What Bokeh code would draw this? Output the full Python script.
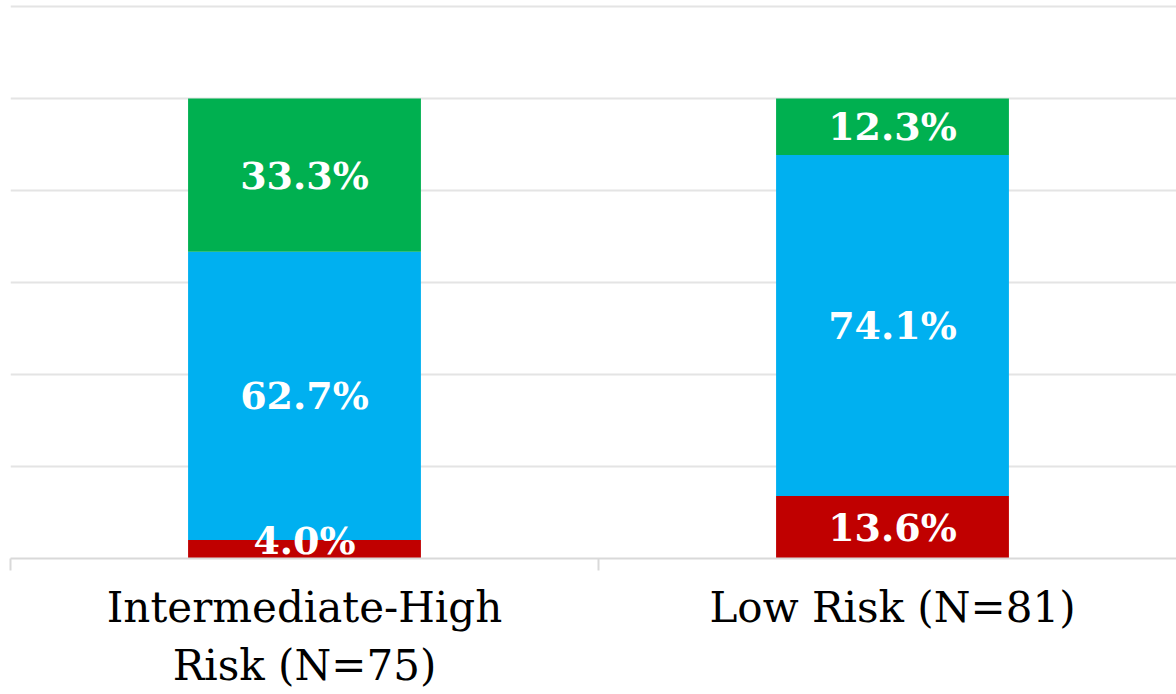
from bokeh.plotting import figure
from bokeh.models import ColumnDataSource, FixedTicker, Range1d
from bokeh.core.properties import value
from bokeh.embed import file_html
from bokeh.resources import INLINE

categories = ["Intermediate-High\nRisk (N=75)", "Low Risk (N=81)"]
x_pos = [0.5, 1.5]
red_vals = [4.0, 13.6]
blue_vals = [62.7, 74.1]
green_vals = [33.3, 12.3]
series_colors = ["#C00000", "#00B0F0", "#00B050"]

p = figure(width=1176, height=694, output_backend="svg", toolbar_location=None,
           x_range=Range1d(0, 1166 / 588), y_range=Range1d(0, 121.3),
           min_border_left=10, min_border_right=0, min_border_top=0,
           min_border_bottom=136,
           background_fill_color="white", border_fill_color="white",
           outline_line_color=None)

src = ColumnDataSource(dict(x=x_pos, red=red_vals, blue=blue_vals, green=green_vals))
p.vbar_stack(["red", "blue", "green"], x="x", width=0.396, source=src,
             color=series_colors, line_color=None)

# value labels
lx, ly, lt = [], [], []
for i, xv in enumerate(x_pos):
    base = 0.0
    for vals in (red_vals, blue_vals, green_vals):
        v = vals[i]
        lx.append(xv)
        ly.append(base + v / 2)
        lt.append(f"{v:.1f}%")
        base += v
ly[0] = ly[0] + 2.0
p.text(x=lx, y=ly, text=lt, text_color="white", text_font=value("DejaVu Serif"),
       text_font_style="bold", text_font_size="38px", text_align="center",
       text_baseline="middle")

p.yaxis.visible = False
p.ygrid.ticker = FixedTicker(ticks=[0, 20, 40, 60, 80, 100, 120])
p.ygrid.grid_line_color = "#e4e4e4"
p.ygrid.grid_line_width = 2
p.xgrid.visible = False

ax = p.xaxis[0]
ax.ticker = FixedTicker(ticks=x_pos, minor_ticks=[0, 1, 2])
ax.major_label_overrides = {x_pos[i]: categories[i] for i in range(2)}
ax.major_tick_out = 0
ax.major_tick_in = 0
ax.minor_tick_out = 12
ax.minor_tick_in = 0
ax.minor_tick_line_color = "#d9d9d9"
ax.axis_line_color = "#d9d9d9"
ax.axis_line_width = 2
ax.minor_tick_line_width = 2
ax.major_label_text_font = "DejaVu Serif"
ax.major_label_text_font_size = "42px"
ax.major_label_text_color = "black"
ax.major_label_standoff = 12

open("out.html", "w").write(file_html(p, INLINE))
